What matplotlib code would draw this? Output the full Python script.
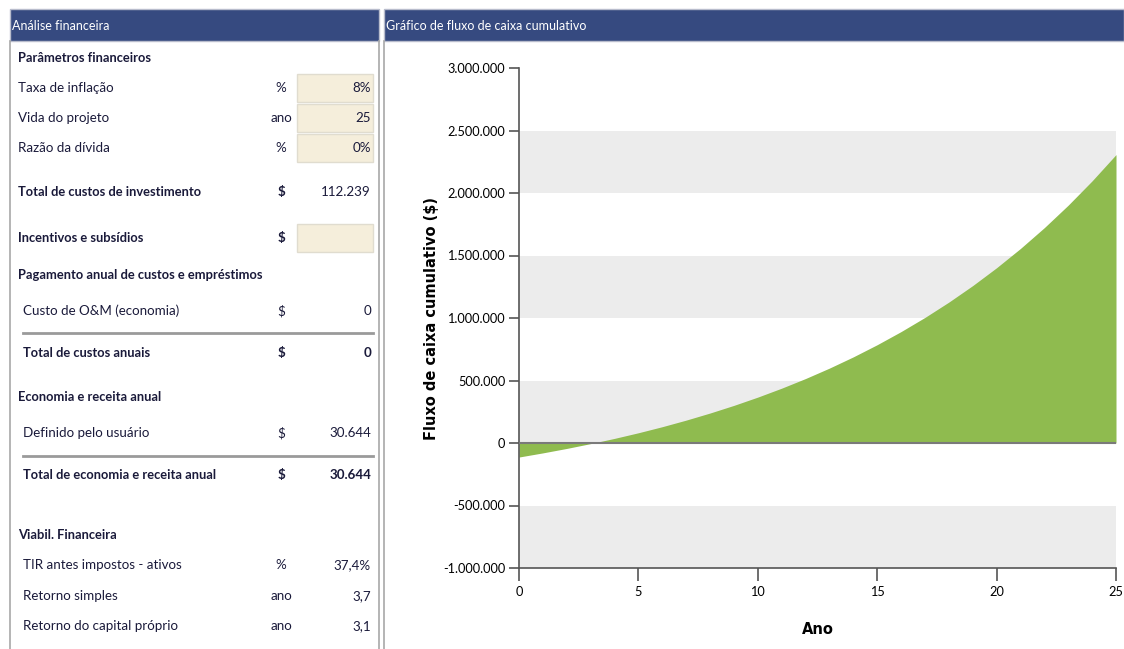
import matplotlib
matplotlib.use("Agg")
import matplotlib.pyplot as plt
import matplotlib.ticker as ticker
from matplotlib.patches import Rectangle

plt.rcParams["font.family"] = ["Lato", "DejaVu Sans"]

# cumulative cash flow, year 0..25
years = list(range(26))
cumulative = [
    -112239, -79100, -43400, -4800, 36900, 81900, 130500, 183100, 239800,
    301000, 367200, 438700, 515800, 599200, 689200, 786400, 891400,
    1004700, 1127200, 1259400, 1402300, 1556500, 1723100, 1903100,
    2097400, 2307200,
]
y_ticks = [-1000000, -500000, 0, 500000, 1000000, 1500000, 2000000, 2500000, 3000000]
x_ticks = [0, 5, 10, 15, 20, 25]

# left panel rows: (label, unit, value, style, indent, boxed, y)
rows = [
    ("Parâmetros financeiros", "", "", "head", 18, False, 58),
    ("Taxa de inflação", "%", "8%", "normal", 18, True, 88),
    ("Vida do projeto", "ano", "25", "normal", 18, True, 118),
    ("Razão da dívida", "%", "0%", "normal", 18, True, 148),
    ("Total de custos de investimento", "$", "112.239", "boldlabel", 18, False, 192),
    ("Incentivos e subsídios", "$", "", "boldlabel", 18, True, 238),
    ("Pagamento anual de custos e empréstimos", "", "", "head", 18, False, 275),
    ("Custo de O&M (economia)", "$", "0", "normal", 23, False, 311),
    ("Total de custos anuais", "$", "0", "bold", 23, False, 353),
    ("Economia e receita anual", "", "", "head", 18, False, 397),
    ("Definido pelo usuário", "$", "30.644", "normal", 23, False, 433),
    ("Total de economia e receita anual", "$", "30.644", "bold", 23, False, 475),
    ("Viabil. Financeira", "", "", "head", 18, False, 535),
    ("TIR antes impostos - ativos", "%", "37,4%", "normal", 23, False, 565),
    ("Retorno simples", "ano", "3,7", "normal", 23, False, 596),
    ("Retorno do capital próprio", "ano", "3,1", "normal", 23, False, 626),
]
separators = [333, 456]

W, H = 1124, 649
fig = plt.figure(figsize=(W / 100, H / 100), dpi=100)
fig.patch.set_facecolor("white")

bg = fig.add_axes([0, 0, 1, 1])
bg.set_xlim(0, W)
bg.set_ylim(H, 0)
bg.axis("off")

header_col = "#364a80"
border_col = "#a8a8a8"
text_col = "#1a1a3a"

# panel frames and headers
bg.add_patch(Rectangle((10, 9), 369, 32, facecolor=header_col, edgecolor="#b8bccc", lw=1))
bg.add_patch(Rectangle((384, 9), W - 384, 32, facecolor=header_col, edgecolor="#b8bccc", lw=1))
for x in (10, 379, 384):
    bg.plot([x, x], [41, H], color=border_col, lw=1.2)
bg.text(12, 26, "Análise financeira", color="white", fontsize=9.0, va="center")
bg.text(386, 26, "Gráfico de fluxo de caixa cumulativo", color="white", fontsize=9.0, va="center")

for label, unit, value, style, indent, boxed, y in rows:
    bold = style in ("head", "boldlabel", "bold")
    bg.text(indent, y, label, color=text_col, fontsize=9.3 if bold else 9.6,
            fontweight="bold" if bold else "normal", va="center")
    if boxed:
        bg.add_patch(Rectangle((297, y - 14), 76, 28, facecolor="#f5eedb",
                               edgecolor="#e0dccf", lw=1))
    if unit:
        bg.text(281, y, unit, color=text_col, fontsize=9.6, ha="center", va="center",
                fontweight="bold" if style in ("bold", "boldlabel") else "normal")
    if value:
        bg.text(371, y, value, color=text_col, fontsize=9.6, ha="right", va="center",
                fontweight="bold" if style == "bold" else "normal")

for y in separators:
    bg.plot([23, 373], [y, y], color="#9a9a9a", lw=2)

# chart
x0, x1, y0, y1 = 519, 1116, 68, 568
ax = fig.add_axes([x0 / W, 1 - y1 / H, (x1 - x0) / W, (y1 - y0) / H])
ax.set_facecolor("none")
ax.set_xlim(0, 25)
ax.set_ylim(-1000000, 3000000)

for lo, hi in [(-1000000, -500000), (0, 500000), (1000000, 1500000), (2000000, 2500000)]:
    ax.axhspan(lo, hi, color="#ececec", lw=0, zorder=0)

ax.fill_between(years, 0, cumulative, color="#8fbb4f", lw=0, zorder=2)
ax.axhline(0, color="#7a7a7a", lw=1.5, zorder=3)

ax.yaxis.set_major_locator(ticker.FixedLocator(y_ticks))
ax.xaxis.set_major_locator(ticker.FixedLocator(x_ticks))
ax.yaxis.set_major_formatter(ticker.FuncFormatter(lambda v, p: f"{int(v):,}".replace(",", ".")))

for side in ("top", "right"):
    ax.spines[side].set_visible(False)
for side in ("left", "bottom"):
    ax.spines[side].set_color("#555555")
    ax.spines[side].set_linewidth(1.2)
ax.tick_params(axis="both", color="#555555", width=1.2, labelsize=9.2, labelcolor="black")
ax.tick_params(axis="y", length=7, pad=3)
ax.tick_params(axis="x", length=9, pad=4)

ax.set_ylabel("Fluxo de caixa cumulativo ($)", fontsize=10.5, fontweight="bold",
              family="DejaVu Sans")
ax.yaxis.set_label_coords(-0.134, 0.5)
ax.set_xlabel("Ano", fontsize=10.5, fontweight="bold", family="DejaVu Sans")
ax.xaxis.set_label_coords(0.5, -0.108)

fig.savefig("out.png", dpi=100, facecolor="white")
